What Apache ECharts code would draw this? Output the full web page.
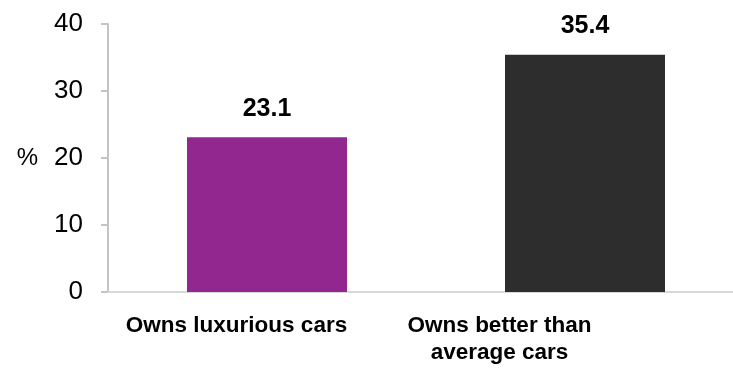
<!DOCTYPE html>
<html>
<head>
<meta charset="utf-8">
<script src="https://cdn.jsdelivr.net/npm/echarts@6/dist/echarts.min.js"></script>
<style>
html,body{margin:0;padding:0;background:#fff;}
#chart{width:733px;height:372px;}
</style>
</head>
<body>
<div id="chart"></div>
<script>
var categories = ['Owns luxurious cars', 'Owns better than\naverage cars'];
var values = [23.1, 35.4];
var barColors = ['#92278F', '#2D2D2D'];
var yTicks = [0, 10, 20, 30, 40];

var chart = echarts.init(document.getElementById('chart'), null, {renderer: 'canvas'});
var FONT = '"Liberation Sans", Arial, sans-serif';
chart.setOption({
  animation: false,
  backgroundColor: '#ffffff',
  grid: [
    {left: 108, top: 24, width: 636, height: 268, outerBoundsMode: 'none', containLabel: false},
    {left: 105, top: 24, width: 526, height: 268, outerBoundsMode: 'none', containLabel: false}
  ],
  xAxis: [
    {
      type: 'category', gridIndex: 0, data: categories,
      axisLine: {show: true, lineStyle: {color: '#d9d9d9', width: 2}},
      axisTick: {show: false},
      axisLabel: {show: false}
    },
    {
      type: 'category', gridIndex: 1, data: categories,
      axisLine: {show: false},
      axisTick: {show: false},
      axisLabel: {
        show: true, interval: 0, hideOverlap: false, margin: 20, color: '#000',
        fontFamily: FONT, fontWeight: 'bold', fontSize: 22.5, lineHeight: 27
      }
    }
  ],
  yAxis: [
    {
      type: 'value', gridIndex: 0,
      min: yTicks[0], max: yTicks[yTicks.length - 1], interval: 10,
      name: '%', nameLocation: 'middle', nameRotate: 0, nameGap: 70,
      nameTextStyle: {color: '#000', fontFamily: FONT, fontSize: 24},
      axisLine: {show: true, lineStyle: {color: '#c4c4c4', width: 2}},
      axisTick: {show: true, length: 7, lineStyle: {color: '#c4c4c4', width: 2}},
      splitLine: {show: false},
      axisLabel: {margin: 25, color: '#000', fontFamily: FONT, fontSize: 26}
    },
    {
      type: 'value', gridIndex: 1, min: 0, max: 40, show: false
    }
  ],
  series: [{
    type: 'bar',
    xAxisIndex: 0, yAxisIndex: 0,
    barWidth: 160,
    data: values.map(function (v, i) {
      return {value: v, itemStyle: {color: barColors[i]}};
    }),
    label: {
      show: true, position: 'top', distance: 16,
      color: '#000', fontFamily: FONT, fontWeight: 'bold', fontSize: 25
    }
  }]
});
</script>
</body>
</html>
